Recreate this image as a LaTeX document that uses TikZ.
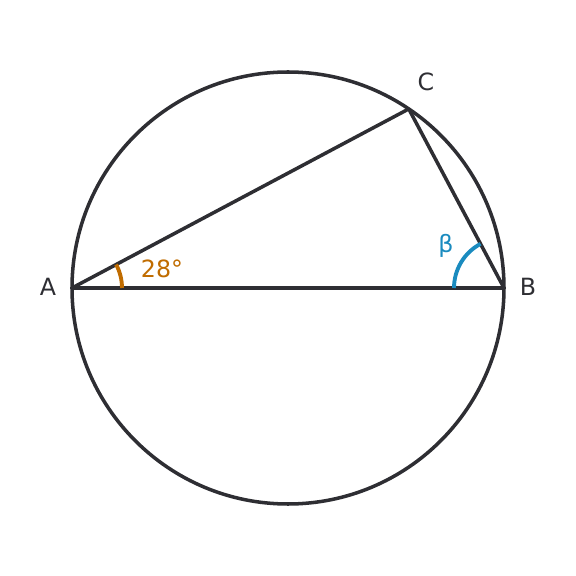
\documentclass[tikz,border=0pt]{standalone}
\usepackage{fontspec}
\setmainfont{DejaVu Sans}
\usetikzlibrary{calc}
\definecolor{inkdark}{HTML}{2E2E33}
\definecolor{angleorange}{HTML}{C06C00}
\definecolor{angleblue}{HTML}{1A8BBF}
\tikzset{
  edge/.style={draw=inkdark, line width=2pt, line join=round},
  anglearc/.style={line width=2.2pt},
  vertexlabel/.style={text=inkdark, font=\fontsize{13.5}{16}\selectfont},
}
\begin{document}
\begin{tikzpicture}
            \useasboundingbox (-5.76, -5.76) rectangle (5.76, 5.76);
            \coordinate (O) at (0, 0);
            \coordinate (A) at (180:4.32);
            \coordinate (B) at (0:4.32);
            \coordinate (C) at (56:4.32);

            \draw [edge]                    (O) circle (4.32);
            \draw [edge]                    (A) -- (B) -- (C) -- cycle;

            \draw [anglearc,angleorange]    ($(A)+(0:1)$)   arc (0:28:1);
            \draw [anglearc,angleblue]      ($(B)+(180:1)$) arc (180:118:1);

            \node [vertexlabel] (labA) at (-4.80, 0.02) {A};
            \node [vertexlabel] (labB) at (4.80, 0.02)  {B};
            \node [vertexlabel] (labC) at (2.76, 4.12)  {C};
            \node [vertexlabel,text=angleorange] (alpha) at (-2.52, 0.38) {28°};
            \node [vertexlabel,text=angleblue]   (beta)  at (3.16, 0.84)  {β};
          \end{tikzpicture}
\end{document}
